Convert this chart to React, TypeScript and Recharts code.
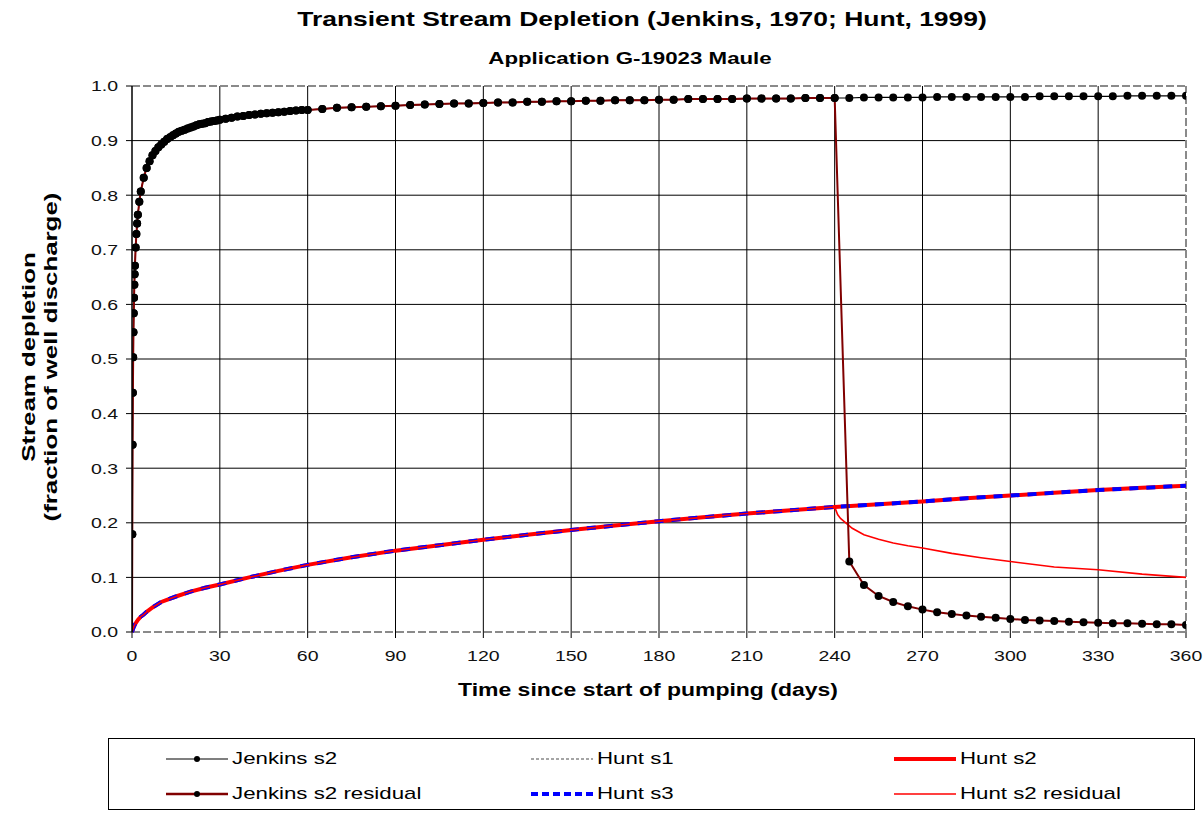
import React from "react";
import { LineChart, Line, XAxis, YAxis, CartesianGrid, ReferenceLine } from "recharts";

const xTicks = [0, 30, 60, 90, 120, 150, 180, 210, 240, 270, 300, 330, 360];
const yTicks = [0, 0.1, 0.2, 0.3, 0.4, 0.5, 0.6, 0.7, 0.8, 0.9, 1.0];
const xGrid = [30, 60, 90, 120, 150, 180, 210, 240, 270, 300, 330];
const yGrid = [0.1, 0.2, 0.3, 0.4, 0.5, 0.6, 0.7, 0.8, 0.9];

// Jenkins (1970) - fine steps early, then every 5 days
const jenkinsDays = [
  0, 0.1, 0.2, 0.3, 0.4, 0.5, 0.6, 0.7, 0.8, 0.9, 1, 1.25, 1.5, 1.75, 2, 2.5, 3, 4, 5, 6, 7, 8, 9, 10,
  11, 12, 13, 14, 15, 16, 17, 18, 19, 20, 21, 22, 23, 24, 25, 26, 27, 28, 29, 30,
  32, 34, 36, 38, 40, 42, 44, 46, 48, 50, 52, 54, 56, 58, 60,
  65, 70, 75, 80, 85, 90, 95, 100, 105, 110, 115, 120, 125, 130, 135, 140, 145, 150, 155, 160,
  165, 170, 175, 180, 185, 190, 195, 200, 205, 210, 215, 220, 225, 230, 235, 240,
  245, 250, 255, 260, 265, 270, 275, 280, 285, 290, 295, 300, 305, 310, 315, 320, 325, 330,
  335, 340, 345, 350, 355, 360,
];
const jenkinsS2 = [
  0, 0.179, 0.343, 0.438, 0.503, 0.549, 0.584, 0.612, 0.636, 0.655, 0.671, 0.704, 0.729, 0.748, 0.764, 0.788, 0.807, 0.832, 0.85, 0.862, 0.873, 0.881, 0.888, 0.893,
  0.898, 0.903, 0.906, 0.91, 0.913, 0.916, 0.918, 0.92, 0.922, 0.924, 0.926, 0.928, 0.93, 0.931, 0.932, 0.934, 0.935, 0.936, 0.937, 0.938,
  0.94, 0.942, 0.944, 0.945, 0.947, 0.948, 0.949, 0.95, 0.951, 0.952, 0.953, 0.954, 0.955, 0.956, 0.956,
  0.958, 0.96, 0.961, 0.962, 0.963, 0.964, 0.965, 0.966, 0.967, 0.968, 0.968, 0.969, 0.97, 0.97, 0.971, 0.971, 0.972, 0.972, 0.973, 0.973,
  0.974, 0.974, 0.974, 0.975, 0.975, 0.976, 0.976, 0.976, 0.976, 0.977, 0.977, 0.977, 0.977, 0.978, 0.978, 0.978,
  0.978, 0.979, 0.979, 0.979, 0.979, 0.979, 0.98, 0.98, 0.98, 0.98, 0.98, 0.98, 0.98, 0.981, 0.981, 0.981, 0.981, 0.981,
  0.981, 0.982, 0.982, 0.982, 0.982, 0.982,
];
// residual after pumping stops at day 240 (days 245..360)
const jenkinsResidualAfter = [
  0.129, 0.086, 0.066, 0.055, 0.047, 0.041, 0.036, 0.033, 0.03, 0.028, 0.026, 0.024,
  0.022, 0.021, 0.02, 0.019, 0.018, 0.017, 0.016, 0.016, 0.015, 0.014, 0.014, 0.013,
];

// Hunt (1999)
const huntDays = [
  0, 0.5, 1, 2, 3, 4, 5, 7, 10, 15, 20, 25, 30, 40, 50, 60, 75, 90, 105, 120, 135, 150,
  165, 180, 195, 210, 225, 240, 255, 270, 285, 300, 315, 330, 345, 360,
];
const huntS2 = [
  0, 0.008, 0.014, 0.022, 0.028, 0.032, 0.037, 0.045, 0.055, 0.065, 0.074, 0.081, 0.087, 0.1, 0.112, 0.123, 0.137, 0.149, 0.159, 0.169, 0.178, 0.187,
  0.195, 0.203, 0.21, 0.217, 0.223, 0.229, 0.234, 0.239, 0.245, 0.25, 0.255, 0.26, 0.264, 0.268,
];
const huntS3 = [
  0, 0.008, 0.014, 0.022, 0.028, 0.032, 0.037, 0.045, 0.055, 0.065, 0.074, 0.081, 0.087, 0.1, 0.112, 0.123, 0.137, 0.149, 0.159, 0.169, 0.178, 0.187,
  0.195, 0.203, 0.21, 0.217, 0.223, 0.229, 0.234, 0.239, 0.245, 0.25, 0.255, 0.26, 0.264, 0.268,
];
const huntS1Days = [0, 360];
const huntS1 = [0, 0];
const huntResidualDaysAfter = [241, 242, 244, 246, 248, 250, 255, 260, 265, 270, 280, 290, 300, 315, 330, 345, 360];
const huntResidualAfter = [0.215, 0.208, 0.199, 0.19, 0.184, 0.178, 0.17, 0.163, 0.158, 0.154, 0.144, 0.136, 0.129, 0.119, 0.114, 0.106, 0.1];

const STOP_DAY = 240;

const jenkinsData = jenkinsDays.map((t, i) => ({ t, v: jenkinsS2[i] }));
const jenkinsResidualData = jenkinsDays.map((t, i) => ({
  t,
  v: t <= STOP_DAY ? jenkinsS2[i] : jenkinsResidualAfter[i - jenkinsDays.indexOf(STOP_DAY) - 1],
}));
const huntS1Data = huntS1Days.map((t, i) => ({ t, v: huntS1[i] }));
const huntS2Data = huntDays.map((t, i) => ({ t, v: huntS2[i] }));
const huntS3Data = huntDays.map((t, i) => ({ t, v: huntS3[i] }));
const huntResidualData = [
  ...huntDays.filter((t) => t <= STOP_DAY).map((t, i) => ({ t, v: huntS2[i] })),
  ...huntResidualDaysAfter.map((t, i) => ({ t, v: huntResidualAfter[i] })),
];

const FONT = "'Liberation Sans', Arial, Helvetica, sans-serif";
const STRETCH = 1.3; // the original text is drawn wide

const blackDot = (props: any) => {
  const { cx, cy, payload, index } = props;
  if (payload.t === 0) return <g key={"d" + index} />;
  return <circle key={"d" + index} cx={cx} cy={cy} r={4} fill="#000" stroke="none" />;
};

const XTick = (props: any) => {
  const { x, y, payload } = props;
  return (
    <text transform={`translate(${x},${y}) scale(${STRETCH},1)`} textAnchor="middle" dy="0.71em" fontSize={15} fill="#111" fontFamily={FONT}>
      {payload.value}
    </text>
  );
};

const YTick = (props: any) => {
  const { x, y, payload } = props;
  return (
    <text transform={`translate(${x},${y}) scale(${STRETCH},1)`} textAnchor="end" dy="0.355em" fontSize={15} fill="#111" fontFamily={FONT}>
      {Number(payload.value).toFixed(1)}
    </text>
  );
};

const legendItems = [
  { name: "Jenkins s2", kind: "jenkins", x: 166, y: 759 },
  { name: "Hunt s1", kind: "s1", x: 531, y: 759 },
  { name: "Hunt s2", kind: "s2", x: 894, y: 759 },
  { name: "Jenkins s2 residual", kind: "jres", x: 166, y: 794 },
  { name: "Hunt s3", kind: "s3", x: 531, y: 794 },
  { name: "Hunt s2 residual", kind: "hres", x: 894, y: 794 },
];

function Swatch({ kind }: { kind: string }) {
  const w = 62;
  let line: React.ReactNode = null;
  if (kind === "jenkins")
    line = (
      <>
        <line x1={0} y1={8} x2={w} y2={8} stroke="#000" strokeWidth={1.2} />
        <circle cx={w / 2} cy={8} r={3} fill="#000" />
      </>
    );
  if (kind === "jres")
    line = (
      <>
        <line x1={0} y1={8} x2={w} y2={8} stroke="#800000" strokeWidth={2.5} />
        <circle cx={w / 2} cy={8} r={3} fill="#000" />
      </>
    );
  if (kind === "s1") line = <line x1={0} y1={8} x2={w} y2={8} stroke="#888" strokeWidth={1.5} strokeDasharray="3 2" />;
  if (kind === "s2") line = <line x1={0} y1={8} x2={w} y2={8} stroke="#ff0000" strokeWidth={4} />;
  if (kind === "s3") line = <line x1={0} y1={8} x2={w} y2={8} stroke="#0000ff" strokeWidth={4} strokeDasharray="7 4" />;
  if (kind === "hres") line = <line x1={0} y1={8} x2={w} y2={8} stroke="#ff0000" strokeWidth={1.5} />;
  return (
    <svg width={w} height={16} style={{ display: "block" }}>
      {line}
    </svg>
  );
}

export default function App() {
  return (
    <div
      style={{
        position: "absolute",
        left: 0,
        top: 0,
        width: 1204,
        height: 814,
        background: "#fff",
        fontFamily: FONT,
        overflow: "hidden",
      }}
    >
      <div
        style={{
          position: "absolute",
          left: 242,
          width: 800,
          top: 7,
          textAlign: "center",
          fontSize: 21,
          fontWeight: "bold",
          transform: "scaleX(1.26)",
        }}
      >
        Transient Stream Depletion (Jenkins, 1970; Hunt, 1999)
      </div>
      <div
        style={{
          position: "absolute",
          left: 230,
          width: 800,
          top: 49,
          textAlign: "center",
          fontSize: 17,
          fontWeight: "bold",
          transform: "scaleX(1.31)",
        }}
      >
        Application G-19023 Maule
      </div>
      <div
        style={{
          position: "absolute",
          left: 41 - 200,
          top: 357 - 23,
          width: 400,
          height: 46,
          transform: "rotate(-90deg) scaleX(1.36)",
          textAlign: "center",
          fontSize: 19,
          fontWeight: "bold",
          lineHeight: "22px",
        }}
      >
        Stream depletion
        <br />
        (fraction of well discharge)
      </div>
      <div
        style={{
          position: "absolute",
          left: 248,
          width: 800,
          top: 680,
          textAlign: "center",
          fontSize: 18,
          fontWeight: "bold",
          transform: "scaleX(1.276)",
        }}
      >
        Time since start of pumping (days)
      </div>

      <div style={{ position: "absolute", left: 0, top: 0 }}>
        <LineChart width={1204} height={814} margin={{ top: 86, right: 18, bottom: 152, left: 0 }}>
          <CartesianGrid
            horizontal
            vertical
            stroke="#000"
            strokeWidth={1}
            horizontalValues={yGrid}
            verticalValues={xGrid}
          />
          <XAxis
            dataKey="t"
            type="number"
            domain={[0, 360]}
            ticks={xTicks}
            allowDataOverflow
            height={30}
            axisLine={false}
            tickLine={{ stroke: "#000" }}
            tickSize={6}
            tickMargin={12}
            tick={<XTick />}
          />
          <YAxis
            type="number"
            domain={[0, 1]}
            ticks={yTicks}
            width={132}
            axisLine={{ stroke: "#000", strokeWidth: 1.5 }}
            tickLine={{ stroke: "#000" }}
            tickSize={6}
            tickMargin={8}
            tick={<YTick />}
          />
          <ReferenceLine y={1} stroke="#8a8a8a" strokeWidth={2} strokeDasharray="8 3" />
          <ReferenceLine x={360} stroke="#8a8a8a" strokeWidth={2} strokeDasharray="8 3" />
          <Line data={huntS1Data} dataKey="v" name="Hunt s1" stroke="#8a8a8a" strokeWidth={2} strokeDasharray="8 3" dot={false} isAnimationActive={false} />
          <Line data={huntS2Data} dataKey="v" name="Hunt s2" stroke="#ff0000" strokeWidth={4} dot={false} isAnimationActive={false} />
          <Line data={huntS3Data} dataKey="v" name="Hunt s3" stroke="#0000ff" strokeWidth={4} strokeDasharray="9 8" dot={false} isAnimationActive={false} />
          <Line data={huntResidualData} dataKey="v" name="Hunt s2 residual" stroke="#ff0000" strokeWidth={1.6} dot={false} isAnimationActive={false} />
          <Line data={jenkinsData} dataKey="v" name="Jenkins s2" stroke="#000" strokeWidth={1.2} dot={blackDot} isAnimationActive={false} />
          <Line data={jenkinsResidualData} dataKey="v" name="Jenkins s2 residual" stroke="#800000" strokeWidth={2} dot={blackDot} isAnimationActive={false} />
        </LineChart>
      </div>

      <div
        style={{
          position: "absolute",
          left: 108,
          top: 738,
          width: 1087,
          height: 72,
          border: "1.5px solid #000",
          boxSizing: "border-box",
        }}
      />
      {legendItems.map((it) => (
        <div
          key={it.name}
          style={{ position: "absolute", left: it.x, top: it.y - 10, display: "flex", alignItems: "center", fontSize: 17, lineHeight: "20px" }}
        >
          <Swatch kind={it.kind} />
          <span style={{ marginLeft: 4, display: "inline-block", transform: "scaleX(1.31)", transformOrigin: "left center" }}>{it.name}</span>
        </div>
      ))}
    </div>
  );
}
